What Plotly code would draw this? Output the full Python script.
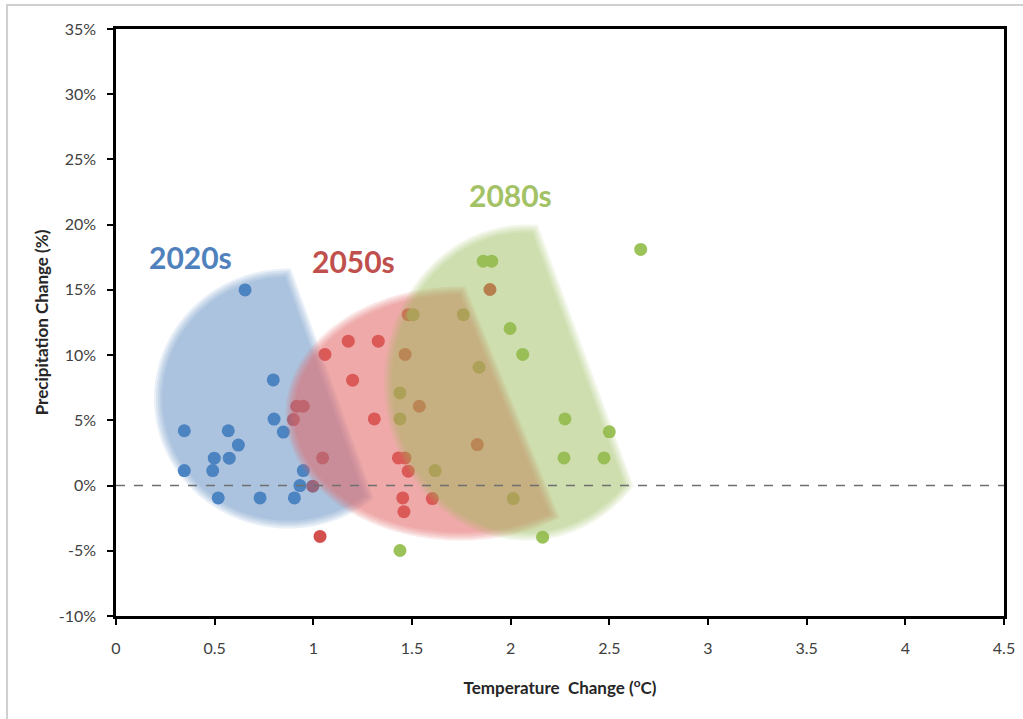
import numpy as np
import plotly.graph_objects as go

# ---------------- data ----------------
temp_2020s = [0.654, 0.797, 0.801, 0.848, 0.346, 0.569, 0.620, 0.498, 0.574,
              0.346, 0.490, 0.949, 0.932, 0.518, 0.730, 0.904]
prec_2020s = [15.0, 8.1, 5.1, 4.1, 4.2, 4.2, 3.1, 2.1, 2.1,
              1.15, 1.15, 1.15, 0.0, -0.95, -0.95, -0.95]

temp_2050s = [0.899, 0.916, 0.949, 1.059, 1.047, 0.997, 1.177, 1.329, 1.199, 1.309,
              1.034, 1.431, 1.465, 1.481, 1.453, 1.459, 1.603, 1.465, 1.537, 1.831,
              1.895, 1.481]
prec_2050s = [5.06, 6.08, 6.08, 10.05, 2.12, -0.05, 11.07, 11.07, 8.08, 5.11,
              -3.9, 2.12, 2.12, 1.1, -0.95, -2.0, -1.0, 10.05, 6.08, 3.14,
              15.03, 13.1]

temp_2080s = [1.506, 1.760, 1.997, 2.061, 1.840, 1.439, 1.439, 2.275, 2.270, 1.617,
              2.013, 1.439, 2.162, 1.861, 1.904, 2.659, 2.500, 2.473]
prec_2080s = [13.1, 13.1, 12.04, 10.05, 9.07, 7.1, 5.11, 5.11, 2.12, 1.15,
              -1.0, -4.98, -3.96, 17.2, 17.2, 18.1, 4.12, 2.12]

period_labels = ["2020s", "2050s", "2080s"]
x_ticks = [0, 0.5, 1, 1.5, 2, 2.5, 3, 3.5, 4, 4.5]
y_ticks = [-10, -5, 0, 5, 10, 15, 20, 25, 30, 35]

# ---------------- styling ----------------
point_colors = ["#4a84c6", "#d4504c", "#9cc35a"]
label_colors = ["#4f81bd", "#c0504d", "#a3c265"]
region_rgb = [(79, 129, 189), (226, 100, 100), (155, 187, 89)]
region_alpha = [0.48, 0.55, 0.47]
# highlighted envelopes: ellipse centre/radii and a cutting chord (data units)
region_geom = [
    dict(c=(0.872, 6.67), r=(0.659, 9.66), cut=((0.872, 16.33), (1.287, -1.07))),
    dict(c=(1.743, 5.52), r=(0.862, 9.43), cut=((1.753, 15.03), (2.225, -2.45))),
    dict(c=(2.080, 7.90), r=(0.700, 11.81), cut=((2.123, 19.71), (2.615, -0.61))),
]
label_pos = [(0.378, 17.5), (1.201, 17.25), (2.0, 22.3)]

KX = 888 / 4.5   # px per degree
KY = 587 / 45.0  # px per percent


def region_path(c, r, cut, grow_px):
    cx, cy = c[0] * KX, c[1] * KY
    rx, ry = r[0] * KX + grow_px, r[1] * KY + grow_px
    t = np.linspace(0, 2 * np.pi, 240, endpoint=False)
    pts = [(cx + rx * np.cos(a), cy + ry * np.sin(a)) for a in t]
    p1 = np.array([cut[0][0] * KX, cut[0][1] * KY])
    p2 = np.array([cut[1][0] * KX, cut[1][1] * KY])
    d = p2 - p1
    n = np.array([-d[1], d[0]]) / np.hypot(*d)  # points to the cut-away (right) side

    def side(q):
        return np.dot(np.array(q) - p1, n) - grow_px

    out = []
    for i in range(len(pts)):
        a, b = pts[i], pts[(i + 1) % len(pts)]
        sa, sb = side(a), side(b)
        if sa <= 0:
            out.append(a)
        if (sa <= 0) != (sb <= 0):
            f = sa / (sa - sb)
            out.append((a[0] + f * (b[0] - a[0]), a[1] + f * (b[1] - a[1])))
    return "M " + " L ".join(f"{x / KX:.4f},{y / KY:.4f}" for x, y in out) + " Z"


fig = go.Figure()
series = [(temp_2020s, prec_2020s), (temp_2050s, prec_2050s), (temp_2080s, prec_2080s)]
for (xs, ys), col, name in zip(series, point_colors, period_labels):
    fig.add_trace(go.Scatter(x=xs, y=ys, mode="markers", name=name,
                             marker=dict(size=13, color=col, line=dict(width=0)),
                             showlegend=False))

shapes = []
grows = [4.0, 2.0, 0.0, -2.0, -4.0]
for geom, rgb, a in zip(region_geom, region_rgb, region_alpha):
    b = 1 - (1 - a) ** (1 / len(grows))
    for g in grows:
        shapes.append(dict(type="path", xref="x", yref="y", layer="above",
                           path=region_path(geom["c"], geom["r"], geom["cut"], g),
                           fillcolor=f"rgb{rgb}", opacity=b, line=dict(width=0)))

shapes.append(dict(type="line", xref="x", yref="y", x0=0, x1=4.5, y0=0, y1=0,
                   layer="above", line=dict(color="#6f6f6f", width=1.6, dash="dash")))
# outer light frame
shapes.append(dict(type="rect", xref="paper", yref="paper",
                   x0=-0.1227, x1=1.2, y0=-0.3, y1=1.041, layer="below",
                   line=dict(color="#cfcfcf", width=2), fillcolor="rgba(0,0,0,0)"))

annotations = []
for lab, (lx, ly), col in zip(period_labels, label_pos, label_colors):
    annotations.append(dict(x=lx, y=ly, xref="x", yref="y", text=f"<b>{lab}</b>",
                            showarrow=False, font=dict(family="Lato", size=30, color=col)))

axis_common = dict(showline=True, linecolor="black", linewidth=2.5, mirror=True,
                   ticks="outside", ticklen=6, tickwidth=2, tickcolor="black",
                   showgrid=False, zeroline=False, automargin=False,
                   tickfont=dict(family="Lato", size=16, color="#404040"))

fig.update_layout(
    width=1023, height=719,
    margin=dict(l=116, r=19, t=29, b=103),
    paper_bgcolor="white", plot_bgcolor="white",
    shapes=shapes, annotations=annotations,
    xaxis=dict(range=[0, 4.5], tickvals=x_ticks, ticktext=[f"{v:g}" for v in x_ticks],
               title=dict(text="<b>Temperature  Change (<sup>o</sup>C)</b>",
                          font=dict(family="Lato", size=17, color="#262626"), standoff=27),
               ticklabelstandoff=10, **axis_common),
    yaxis=dict(range=[-10, 35], tickvals=y_ticks, ticktext=[f"{v}%" for v in y_ticks],
               title=dict(text="<b>Precipitation Change (%)</b>",
                          font=dict(family="Lato", size=17, color="#262626"), standoff=6),
               ticklabelstandoff=8, **axis_common),
)

fig.write_html("out.html", config={"displayModeBar": False},
               post_script="document.body.style.margin='0';")
